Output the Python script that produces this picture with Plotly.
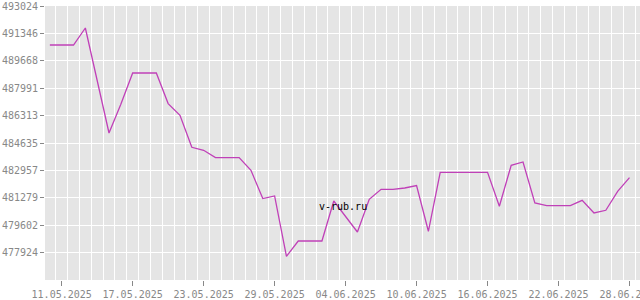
import plotly.graph_objects as go
import pandas as pd

dates = pd.date_range("2025-05-10", "2025-06-28", freq="D")
values = [
    490636, 490636, 490636, 491677, 488413, 485248, 487005, 488922, 488922, 488922,
    487048, 486330, 484372, 484188, 483742, 483742, 483742, 482964, 481231, 481390,
    477698, 478635, 478635, 478635, 481084, 480117, 479186, 481188, 481801, 481801,
    481880, 482027, 479229, 482841, 482841, 482841, 482841, 482841, 480760, 483270,
    483472, 480962, 480803, 480803, 480803, 481127, 480349, 480515, 481678, 482517,
]
y_ticks = [477924, 479602, 481279, 482957, 484635, 486313, 487991, 489668, 491346, 493024]
y_range = [476246, 493024]
x_range = ["2025-05-09 14:08", "2025-06-28 21:20"]
watermark = "v-rub.ru"

mono = "DejaVu Sans Mono"
fig = go.Figure(go.Scatter(
    x=dates, y=values, mode="lines",
    line=dict(color="#c040b8", width=1.3),
    hoverinfo="skip",
))
fig.update_layout(
    width=640, height=300,
    margin=dict(l=45, r=0, t=6, b=20),
    paper_bgcolor="white", plot_bgcolor="#e5e5e5",
    showlegend=False,
    font=dict(family=mono, size=10, color="#888888"),
    annotations=[dict(text=watermark, x=0.5, y=0.24, xref="paper", yref="paper",
                      showarrow=False, font=dict(family=mono, size=10, color="black"))],
)
fig.update_xaxes(
    type="date", range=x_range, automargin=False,
    tick0="2025-05-11", dtick=6 * 86400000, tickformat="%d.%m.%Y",
    ticks="outside", ticklen=5, tickcolor="#888888", showgrid=False,
    ticklabeloverflow="allow",
    zeroline=False, showline=False,
    minor=dict(tick0="2025-05-10 12:00", dtick=86400000, showgrid=True,
               gridcolor="white", gridwidth=1, ticks=""),
)
fig.update_yaxes(
    range=y_range, tickvals=y_ticks, ticktext=[str(v) for v in y_ticks],
    automargin=False,
    ticks="outside", ticklen=4, tickcolor="#888888",
    showgrid=True, gridcolor="white", gridwidth=1, zeroline=False,
)
fig.write_html("out.html")
